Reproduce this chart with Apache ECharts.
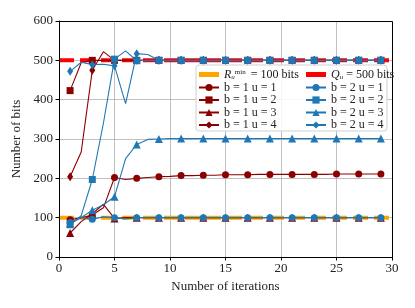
<!DOCTYPE html>
<html><head><meta charset="utf-8">
<script src="https://cdn.jsdelivr.net/npm/echarts@6/dist/echarts.min.js"></script>
<style>html,body{margin:0;padding:0;background:#fff}#c{width:415px;height:308px}</style>
</head><body><div id="c"></div>
<script>
const iterations = [1,2,3,4,5,6,7,8,9,10,11,12,13,14,15,16,17,18,19,20,21,22,23,24,25,26,27,28,29];
const b1u1 = [95,100,107,125,202,197,200,202,204,205,207,207,208,208,209,209,209,210,210,210,210,210,210,210,211,211,211,211,211];
const b1u2 = [423,494,500,500,500,500,500,500,500,500,500,500,500,500,500,500,500,500,500,500,500,500,500,500,500,500,500,500,500];
const b1u3 = [61,90,110,134,98,100,100,100,100,100,100,100,100,100,100,100,100,100,100,100,100,100,100,100,100,100,100,100,100];
const b1u4 = [204,267,475,522,500,500,500,500,500,500,500,500,500,500,500,500,500,500,500,500,500,500,500,500,500,500,500,500,500];
const b2u1 = [88,100,96,102,100,97,100,100,100,100,100,100,100,100,100,100,100,100,100,100,100,100,100,100,100,100,100,100,100];
const b2u2 = [82,105,197,340,503,524,499,500,500,500,500,500,500,500,500,500,500,500,500,500,500,500,500,500,500,500,500,500,500];
const b2u3 = [85,100,119,133,153,250,286,299,300,301,301,301,301,301,301,301,301,301,301,301,301,301,301,301,301,301,301,301,301];
const b2u4 = [472,495,489,490,486,390,517,515,500,500,500,500,500,500,500,500,500,500,500,500,500,500,500,500,500,500,500,500,500];
const rMin = 100;
const qU = 500;
const xTicks = [0,30,5];
const yTicks = [0,600,100];

const FONT = 'Liberation Serif';
const RED = '#8b0000', BLUE = '#1f77b4';

function pts(arr){ return iterations.map((x,i)=>[x,arr[i]]); }
function mk(name, arr, color, symbol){
  const sz = symbol==='diamond' ? [6,9] : (symbol==='triangle' ? 8 : 7);
  return {
    name, type:'line', data: pts(arr), symbol, z: 2,
    symbolSize: (v,p)=> (p.dataIndex%2===0 ? sz : 0),
    showAllSymbol: true,
    lineStyle:{color, width:1.1}, itemStyle:{color},
    animation:false
  };
}
function hline(name, val, color){
  return {
    name, type:'line', data: [[0,val],[30,val]], symbol:'none', z: 1,
    lineStyle:{color, width:4, type:[15,6]}, itemStyle:{color}, animation:false
  };
}

const chart = echarts.init(document.getElementById('c'), null, {renderer:'canvas'});
const rich = {
  i:{fontFamily:FONT, fontStyle:'italic', fontSize:12, color:'#222', lineHeight:12},
  sub:{fontFamily:FONT, fontStyle:'italic', fontSize:7, color:'#222', lineHeight:12, padding:[6,0,0,0]},
  sup:{fontFamily:FONT, fontSize:7, color:'#222', lineHeight:12, padding:[0,2,5,0]},
  t:{fontFamily:FONT, fontSize:12, color:'#222', lineHeight:12}
};
function fmt(name){
  if(name==='Rmin') return '{i|R}{sub|u}{sup|min}{t| = 100 bits}';
  if(name==='Qu') return '{i|Q}{sub|u}{t| = 500 bits}';
  return '{t|'+name+'}';
}
const BAR = 'path://M0,0H16V4H0Z';
const legendCommon = {
  orient:'vertical', itemWidth:20, itemHeight:9, itemGap:0.5, z:10,
  textStyle:{fontFamily:FONT, fontSize:12, color:'#222', lineHeight:12, rich}, formatter: fmt,
  selectedMode:false, padding:0
};
chart.setOption({
  animation:false,
  grid:{left:59, top:21, width:333, height:236},
  xAxis:{type:'value', min:xTicks[0], max:xTicks[1], interval:xTicks[2],
    name:'Number of iterations', nameLocation:'middle', nameGap:22,
    nameTextStyle:{fontFamily:FONT, fontSize:13, color:'#222'},
    axisLine:{show:true, onZero:false, lineStyle:{color:'#000', width:1}},
    axisTick:{show:true, inside:false, length:3.5, lineStyle:{color:'#000'}},
    axisLabel:{fontFamily:FONT, fontSize:13, color:'#222', margin:5},
    splitLine:{show:true, lineStyle:{color:'#b0b0b0', width:0.8}}},
  yAxis:{type:'value', min:yTicks[0], max:yTicks[1], interval:yTicks[2],
    name:'Number of bits', nameLocation:'middle', nameGap:33,
    nameTextStyle:{fontFamily:FONT, fontSize:13, color:'#222'},
    axisLine:{show:true, lineStyle:{color:'#000', width:1}},
    axisTick:{show:true, inside:false, length:3.5, lineStyle:{color:'#000'}},
    axisLabel:{fontFamily:FONT, fontSize:13, color:'#222', margin:6},
    splitLine:{show:true, lineStyle:{color:'#b0b0b0', width:0.8}}},
  graphic:[
    {type:'rect', shape:{x:59.5, y:21.5, width:333, height:236}, style:{fill:'none', stroke:'#000', lineWidth:1}, z:5, silent:true},
    {type:'rect', shape:{x:196, y:65, width:191, height:66, r:3}, style:{fill:'rgba(255,255,255,0.85)', stroke:'#d0d0d0', lineWidth:1}, z:6, silent:true}
  ],
  legend:[
    Object.assign({left:198, top:68, data:[{name:'Rmin', icon:BAR},'b = 1 u = 1','b = 1 u = 2','b = 1 u = 3','b = 1 u = 4']}, legendCommon),
    Object.assign({left:305, top:68, data:[{name:'Qu', icon:BAR},'b = 2 u = 1','b = 2 u = 2','b = 2 u = 3','b = 2 u = 4']}, legendCommon)
  ],
  series:[
    hline('Rmin', rMin, '#ffa500'),
    mk('b = 1 u = 1', b1u1, RED, 'circle'),
    mk('b = 1 u = 2', b1u2, RED, 'rect'),
    mk('b = 1 u = 3', b1u3, RED, 'triangle'),
    mk('b = 1 u = 4', b1u4, RED, 'diamond'),
    hline('Qu', qU, '#ff0000'),
    mk('b = 2 u = 1', b2u1, BLUE, 'circle'),
    mk('b = 2 u = 2', b2u2, BLUE, 'rect'),
    mk('b = 2 u = 3', b2u3, BLUE, 'triangle'),
    mk('b = 2 u = 4', b2u4, BLUE, 'diamond')
  ]
});
</script></body></html>
